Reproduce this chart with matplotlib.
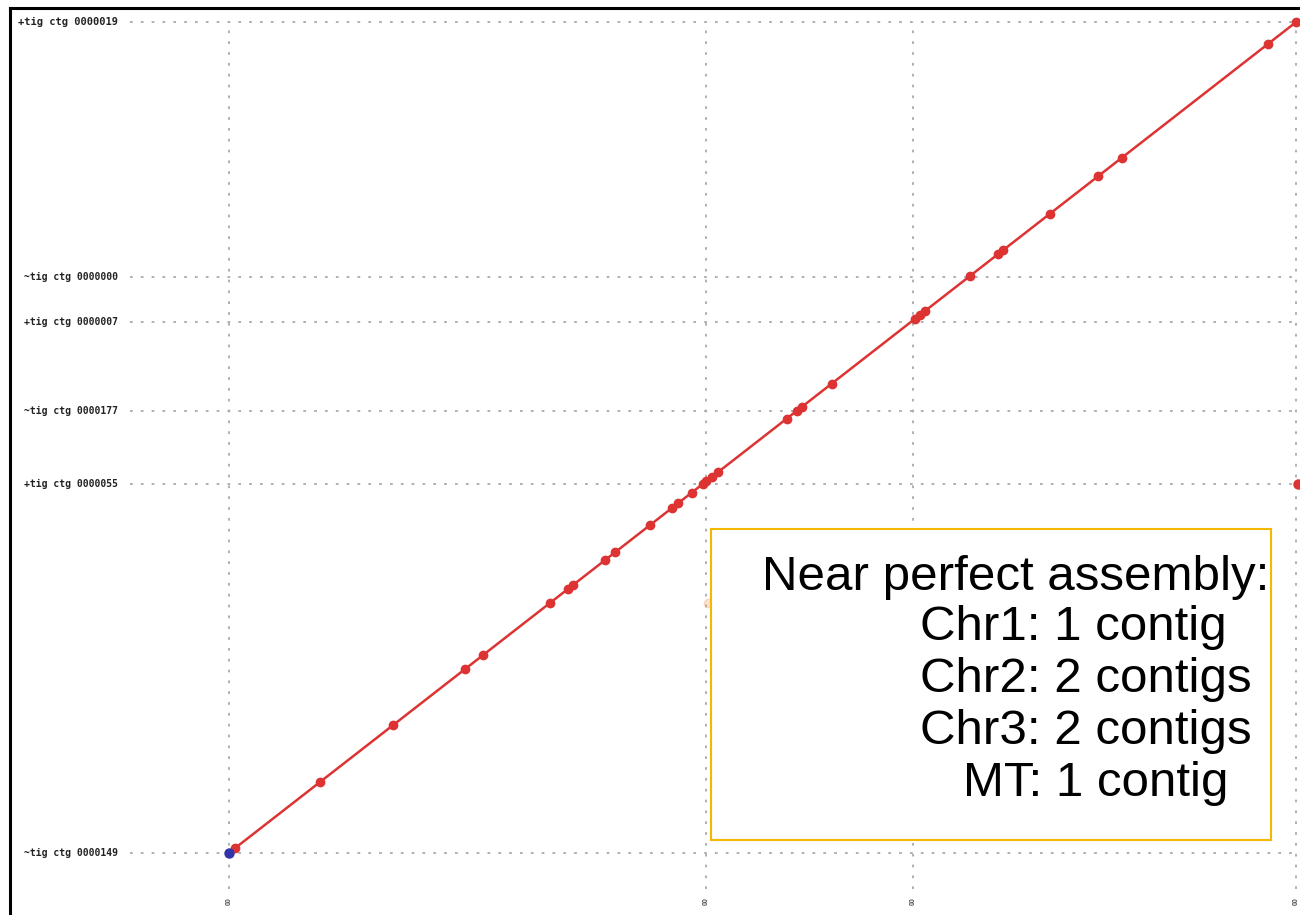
import matplotlib
matplotlib.use("Agg")
import matplotlib.pyplot as plt
from matplotlib.patches import Rectangle

# reference (x) and assembly (y) boundaries, Mb
ref_bounds = [0.0, 5.62, 8.06, 12.57]
ref_labels = ["00", "00", "00", "00"]
qry_bounds = [0.0, 5.58, 6.68, 8.03, 8.71, 12.57]
qry_labels = ["~tig ctg 0000149", "+tig ctg 0000055", "~tig ctg 0000177",
              "+tig ctg 0000007", "~tig ctg 0000000", "+tig ctg 0000019"]

# alignment hits along the diagonal (x = y)
hits = [0.07, 1.07, 1.93, 2.78, 2.99, 3.78, 3.99, 4.05, 4.43, 4.55, 4.96,
        5.22, 5.29, 5.45, 5.58, 5.62, 5.69, 5.76, 6.57, 6.69, 6.75, 7.10,
        8.08, 8.14, 8.20, 8.73, 9.06, 9.12, 9.67, 10.24, 10.52, 12.24, 12.57]
start_hit = [0.0]
mt_x, mt_y = [12.59], [5.58]
faint_x, faint_y = [5.64], [3.78]

box_lines = ["Near perfect assembly:", "Chr1: 1 contig", "Chr2: 2 contigs",
             "Chr3: 2 contigs", "MT: 1 contig"]

plt.rcParams['font.family'] = ['Liberation Sans', 'DejaVu Sans']

W, H = 1300, 915
fig = plt.figure(figsize=(13, 9.15), dpi=100)
ax = fig.add_axes([10 / W, 0, 1300 / W, (H - 8) / H])

px_x = 84.9   # px per Mb horizontally
px_y = 66.1   # px per Mb vertically
xl = -(229 - 10) / px_x
ax.set_xlim(xl, xl + 1300 / px_x)
yt = 12.57 + 14 / px_y
ax.set_ylim(yt - 907 / px_y, yt)

for s in ['bottom', 'right']:
    ax.spines[s].set_visible(False)
for s in ['left', 'top']:
    ax.spines[s].set_linewidth(2.2)
ax.set_xticks([])
ax.set_yticks([])

grid_kw = dict(color='#aaaaaa', lw=1.3, ls=(0, (1.5, 4.5)), zorder=1)
for xb, lab in zip(ref_bounds, ref_labels):
    ax.plot([xb, xb], [-0.55, 12.57], **grid_kw)
    ax.text(xb, -0.73, lab, rotation=90, ha='center', va='center',
            fontsize=5, fontweight='bold', color='#555555')
for i, (yb, lab) in enumerate(zip(qry_bounds, qry_labels)):
    ax.plot([-1.17, 13.0], [yb, yb], **grid_kw)
    ax.text(-1.31, yb, lab, ha='right', va='center',
            fontsize=7.5 if i == len(qry_labels) - 1 else 7,
            family='DejaVu Sans Mono', fontweight='bold', color='#222222')

ax.plot(hits, hits, color='#dd3333', lw=1.8, marker='o', ms=6, zorder=3)
ax.plot(start_hit, start_hit, 'o', color='#3333aa', ms=6.5, zorder=4)
ax.plot(mt_x, mt_y, 'o', color='#dd3333', ms=6.5, zorder=3, clip_on=False)
ax.plot(faint_x, faint_y, 'o', color='#f0a060', alpha=0.3, ms=6, zorder=2)

# annotation box
fig.patches.append(Rectangle((711 / W, 1 - 840 / H), 560 / W, 311 / H,
                             transform=fig.transFigure, fill=True,
                             facecolor='white', edgecolor='#f5b800', lw=1.5,
                             zorder=5))
ys = [577, 628, 680, 732, 783]
xs = [762, 920, 920, 920, 963]
for t, xp, yp in zip(box_lines, xs, ys):
    fig.text(xp / W, 1 - yp / H, t, ha='left', va='center', fontsize=35.5,
             color='black', zorder=6)

fig.savefig('out.png', dpi=100)
